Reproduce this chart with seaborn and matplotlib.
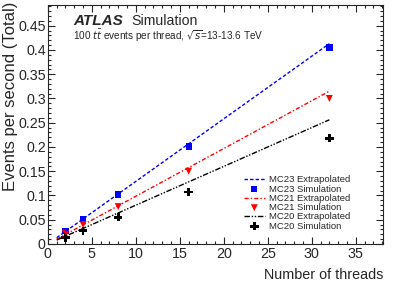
import numpy as np
import pandas as pd
import matplotlib
matplotlib.use("Agg")
import matplotlib.pyplot as plt
from matplotlib.ticker import MultipleLocator
import seaborn as sns

# ------------------- Données -------------------
threads = [2, 4, 8, 16, 32]
mc23_sim = [0.026, 0.051, 0.102, 0.201, 0.405]
mc21_sim = [0.022, 0.040, 0.077, 0.150, 0.300]
mc20_sim = [0.013, 0.027, 0.055, 0.107, 0.218]

extrap_threads = [1, 32]
mc23_extrap = [0.0129, 0.413]
mc21_extrap = [0.0098, 0.315]
mc20_extrap = [0.0080, 0.256]

# ------------------- Style -------------------
sns.set_style("ticks")
plt.rcParams['font.family'] = ['Liberation Sans', 'DejaVu Sans']
plt.rcParams['xtick.direction'] = 'in'
plt.rcParams['ytick.direction'] = 'in'

fig = plt.figure(figsize=(3.99, 2.86), dpi=100)
ax = fig.add_axes([0.120, 0.147, 0.840, 0.836])

sim = pd.DataFrame({"x": threads, "MC23": mc23_sim, "MC21": mc21_sim, "MC20": mc20_sim})
ext = pd.DataFrame({"x": extrap_threads, "MC23": mc23_extrap, "MC21": mc21_extrap, "MC20": mc20_extrap})

series = [
    ("MC23", "blue", (0, (2.5, 1.5)), "s", 4.5),
    ("MC21", "red", (0, (3, 1.5, 1, 1.5)), "v", 5),
    ("MC20", "black", (0, (4, 1.2, 1, 1.2, 1, 1.2)), "P", 6),
]

for name, col, ls, mk, ms in series:
    sns.lineplot(data=ext, x="x", y=name, ax=ax, color=col, linewidth=1.0,
                 linestyle=ls, label=f"{name} Extrapolated")
    sns.scatterplot(data=sim, x="x", y=name, ax=ax, color=col, marker=mk,
                    s=ms ** 2, edgecolor="none", linewidth=0, label=f"{name} Simulation")

ax.set_xlim(0, 38.1)
ax.set_ylim(0, 0.493)
ax.xaxis.set_major_locator(MultipleLocator(5))
ax.xaxis.set_minor_locator(MultipleLocator(1))
ax.yaxis.set_major_locator(MultipleLocator(0.05))
ax.yaxis.set_minor_locator(MultipleLocator(0.01))
ax.tick_params(which='both', top=True, right=True, width=0.8)
ax.tick_params(which='major', length=5, labelsize=10.3)
ax.tick_params(axis='y', which='major', pad=1.5)
ax.tick_params(axis='x', which='major', pad=2)
ax.tick_params(which='minor', length=2.5)
ax.set_yticks(np.arange(0, 0.46, 0.05))
ax.set_yticklabels(["0", "0.05", "0.1", "0.15", "0.2", "0.25", "0.3", "0.35", "0.4", "0.45"])
for s in ax.spines.values():
    s.set_linewidth(0.8)

ax.set_xlabel("Number of threads", fontsize=10.4, loc='right')
ax.set_ylabel("Events per second (Total)", fontsize=12, loc='top')
ax.xaxis.set_label_coords(1.0, -0.10)
ax.yaxis.set_label_coords(-0.09, 1.012)

ax.text(0.075, 0.915, "ATLAS", transform=ax.transAxes, fontsize=11,
        fontweight='bold', fontstyle='italic')
ax.text(0.248, 0.915, "Simulation", transform=ax.transAxes, fontsize=10.2)
ax.text(0.075, 0.853, r"100 $t\bar{t}$ events per thread, $\sqrt{s}$=13-13.6 TeV",
        transform=ax.transAxes, fontsize=7.2)

ax.legend(loc='upper left', bbox_to_anchor=(0.585, 0.287), frameon=False,
          fontsize=6.8, handlelength=2.2, handletextpad=0.5, labelspacing=0.03,
          borderpad=0, borderaxespad=0)

fig.savefig("out.png", dpi=100)
